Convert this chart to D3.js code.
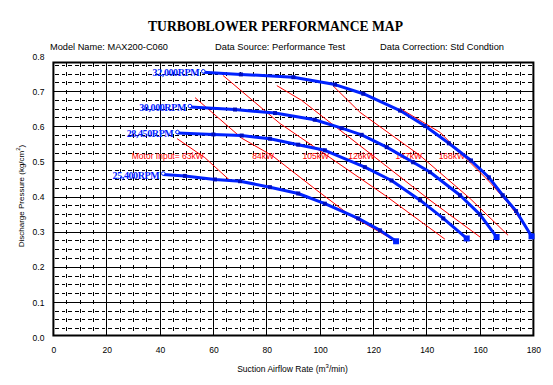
<!DOCTYPE html>
<html><head><meta charset="utf-8">
<script src="https://cdn.jsdelivr.net/npm/d3@7"></script>
<style>
html,body{margin:0;padding:0;background:#fff;}
svg{display:block;}
</style></head>
<body>
<svg id="chart" width="553" height="385"></svg>
<script>
// ---------- data ----------
const xTicks = [0, 20, 40, 60, 80, 100, 120, 140, 160, 180];
const yTicks = [0.0, 0.1, 0.2, 0.3, 0.4, 0.5, 0.6, 0.7, 0.8];
const rpmNames = ["32,000RPM", "30,000RPM", "28,450RPM", "25,400RPM"];
const rpm32000 = [[56.2,0.755],[70.3,0.749],[90.0,0.741],[105.6,0.720],[116.2,0.694],[130.0,0.646],[139.4,0.602],[148.3,0.553],[156.6,0.504],[163.3,0.456],[168.5,0.405],[173.5,0.360],[179.3,0.288]];
const rpm30000 = [[51.2,0.656],[68.1,0.649],[83.1,0.639],[98.0,0.620],[108.1,0.596],[115.6,0.577],[125.0,0.542],[134.9,0.499],[141.2,0.471],[152.5,0.405],[160.0,0.350],[166.2,0.286]];
const rpm28450 = [[46.5,0.582],[60.0,0.578],[70.6,0.575],[81.2,0.566],[91.8,0.549],[101.8,0.533],[116.8,0.485],[126.8,0.447],[137.5,0.391],[146.2,0.339],[155.0,0.282]];
const rpm25400 = [[41.2,0.464],[49.3,0.460],[60.6,0.450],[70.0,0.445],[81.2,0.428],[91.8,0.410],[101.8,0.381],[114.3,0.339],[122.5,0.305],[128.5,0.274]];
const powerNames = ["Motor Input= 63kW", "84kW", "105kW", "126kW", "147kW", "168kW"];
const power63  = [[46.4,0.566],[56.8,0.512],[66.2,0.447]];
const power84  = [[53.1,0.683],[70.7,0.567],[82.0,0.518],[98.8,0.419],[111.2,0.348],[128.5,0.274]];
const power105 = [[63.6,0.746],[85.0,0.609],[102.6,0.518],[124.3,0.405],[146.8,0.280]];
const power126 = [[83.8,0.717],[93.1,0.675],[120.6,0.513],[141.2,0.391],[160.0,0.286]];
const power147 = [[104.8,0.717],[115.0,0.641],[137.5,0.518],[156.2,0.396],[170.5,0.291]];
const power168 = [[130.0,0.652],[145.0,0.584],[154.3,0.513],[163.7,0.442],[171.2,0.376],[176.8,0.320]];
const powerLabelY = 0.518;

// ---------- layout ----------
const svg = d3.select("#chart");
const L = 53.4, R = 533.4, T = 62.5, B = 335.5;
const x = d3.scaleLinear().domain([0, 180]).range([L, R]);
const y = d3.scaleLinear().domain([0, 0.8]).range([337.5, 56.5]);
const sans = "'Liberation Sans', Arial, sans-serif";
const serif = "'Liberation Serif', 'Times New Roman', serif";

svg.append("defs").append("clipPath").attr("id", "plotclip")
  .append("rect").attr("x", L).attr("y", T).attr("width", R - L).attr("height", B - T);

// title & header
svg.append("text").attr("x", 275.5).attr("y", 31).attr("text-anchor", "middle")
  .attr("font-family", serif).attr("font-weight", "bold").attr("font-size", 14)
  .attr("textLength", 255).attr("lengthAdjust", "spacingAndGlyphs")
  .text("TURBOBLOWER PERFORMANCE MAP");
const hdr = [["Model Name: MAX200-C060", 50, 118], ["Data Source: Performance Test", 215, 130], ["Data Correction: Std Condtion", 380, 124]];
hdr.forEach(h => svg.append("text").attr("x", h[1]).attr("y", 50)
  .attr("font-family", sans).attr("font-size", 8.5)
  .attr("textLength", h[2]).attr("lengthAdjust", "spacingAndGlyphs").text(h[0]));

// grid
const inside = v => y(v) > T + 1 && y(v) < B - 1;
const g = svg.append("g").attr("clip-path", "url(#plotclip)").attr("shape-rendering", "crispEdges");
const minorX = d3.range(0, 180.01, 5).filter(v => v % 20 !== 0);
const minorY = d3.range(0, 0.8001, 0.025).filter(v => Math.abs(v * 10 - Math.round(v * 10)) > 1e-6).filter(inside);
const rowStep = y(0) - y(0.025);
const half = (x(5) - x(0)) / 2;
g.selectAll(".mx").data(minorX).join("line")
  .attr("x1", d => x(d)).attr("x2", d => x(d)).attr("y1", y(0.8) - 2).attr("y2", y(0) + 2)
  .attr("stroke", "#000").attr("stroke-width", 1).attr("stroke-dasharray", `4,${rowStep - 4}`);
g.selectAll(".my").data(minorY).join("line")
  .attr("y1", d => y(d)).attr("y2", d => y(d)).attr("x1", x(0) + 1.6).attr("x2", R + 2)
  .attr("stroke", "#000").attr("stroke-width", 1).attr("stroke-dasharray", `3.5,${half - 3.5}`);
g.selectAll(".Mx").data(xTicks.slice(1, -1)).join("line")
  .attr("x1", d => x(d)).attr("x2", d => x(d)).attr("y1", T).attr("y2", B)
  .attr("stroke", "#000").attr("stroke-width", 1);
g.selectAll(".My").data(yTicks.filter(inside)).join("line")
  .attr("y1", d => y(d)).attr("y2", d => y(d)).attr("x1", L).attr("x2", R)
  .attr("stroke", "#000").attr("stroke-width", 1);
svg.append("rect").attr("x", L).attr("y", T).attr("width", R - L).attr("height", B - T)
  .attr("fill", "none").attr("stroke", "#000").attr("stroke-width", 2);

// axes labels
const xAxis = d3.axisBottom(x).tickValues(xTicks).tickSize(0).tickPadding(11).tickFormat(d3.format("d"));
const ax = svg.append("g").attr("transform", `translate(0,${B})`).call(xAxis);
ax.select(".domain").remove();
ax.selectAll("text").attr("font-family", sans).attr("font-size", 8.5);
const yAxis = d3.axisLeft(y).tickValues(yTicks).tickSize(0).tickPadding(9).tickFormat(d3.format(".1f"));
const ay = svg.append("g").attr("transform", `translate(${L},0)`).call(yAxis);
ay.select(".domain").remove();
ay.selectAll("text").attr("font-family", sans).attr("font-size", 8.5);

const xt = svg.append("text").attr("x", 292.5).attr("y", 372).attr("text-anchor", "middle")
  .attr("font-family", sans).attr("font-size", 8.5);
xt.append("tspan").text("Suction Airflow Rate (m");
xt.append("tspan").attr("font-size", 6).attr("dy", -4).text("3");
xt.append("tspan").attr("dy", 4).text("/min)");
const yt = svg.append("text").attr("transform", "translate(24,196) rotate(-90)").attr("text-anchor", "middle")
  .attr("font-family", sans).attr("font-size", 8);
yt.append("tspan").text("Discharge Pressure (kg/cm");
yt.append("tspan").attr("font-size", 6).attr("dy", -4).text("2");
yt.append("tspan").attr("dy", 4).text(")");

// power lines
const line = d3.line().x(d => x(d[0])).y(d => y(d[1]));
const powers = [power63, power84, power105, power126, power147, power168];
svg.append("g").selectAll("path").data(powers).join("path")
  .attr("d", line).attr("fill", "none").attr("stroke", "#ff0000").attr("stroke-width", 1);

function crossX(pts, yv) {
  for (let i = 0; i < pts.length - 1; i++) {
    const a = pts[i], b = pts[i + 1];
    if ((a[1] - yv) * (b[1] - yv) <= 0) return a[0] + (yv - a[1]) / (b[1] - a[1]) * (b[0] - a[0]);
  }
  return pts[pts.length - 1][0];
}
svg.append("g").selectAll("text").data(powers).join("text")
  .attr("x", d => x(crossX(d, powerLabelY)) + 2)
  .attr("y", y(powerLabelY) + 3)
  .attr("text-anchor", "end")
  .attr("font-family", sans).attr("font-size", 8.5).attr("fill", "#ff0000")
  .text((d, i) => powerNames[i]);

// rpm curves
const curves = [rpm32000, rpm30000, rpm28450, rpm25400];
const blue = "#0022ff";
const cg = svg.append("g");
cg.selectAll("path").data(curves).join("path")
  .attr("d", line).attr("fill", "none").attr("stroke", blue).attr("stroke-width", 3).attr("stroke-linejoin", "round");
curves.forEach((c, ci) => {
  cg.selectAll(null).data(c.slice(1, -1)).join("rect")
    .attr("x", d => x(d[0]) - 2).attr("y", d => y(d[1]) - 2).attr("width", 4).attr("height", 4).attr("fill", "#0010c0");
  const e = c[c.length - 1];
  cg.append("rect").attr("x", x(e[0]) - 3).attr("y", y(e[1]) - 3).attr("width", 6).attr("height", 6).attr("fill", blue);
  const s = c[0];
  cg.append("circle").attr("cx", x(s[0])).attr("cy", y(s[1]) - 1).attr("r", 1.8).attr("fill", "#fff").attr("stroke", blue).attr("stroke-width", 1);
  cg.append("text").attr("x", x(s[0]) - 4).attr("y", y(s[1]) + 4).attr("text-anchor", "end")
    .attr("font-family", serif).attr("font-weight", "bold").attr("font-size", 10).attr("fill", blue)
    .attr("letter-spacing", -0.4).text(rpmNames[ci]);
});
</script>
</body></html>
